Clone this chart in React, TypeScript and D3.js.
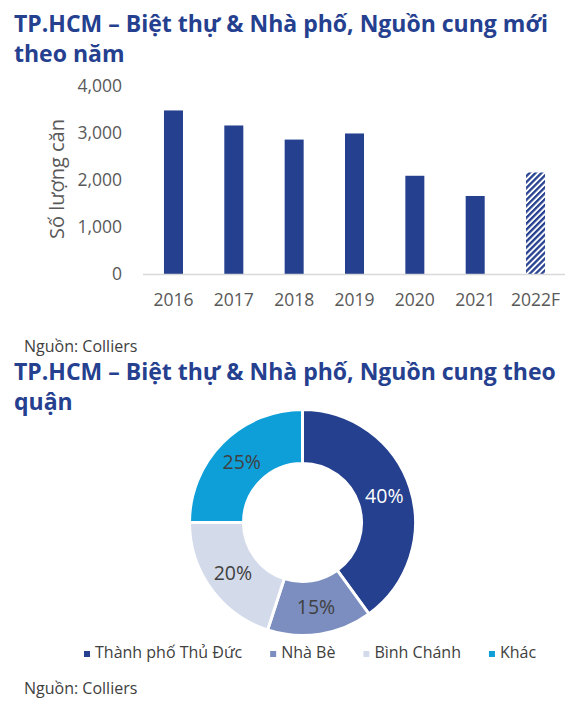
import React, { useEffect, useRef } from "react";
import * as d3 from "d3";

const years = ["2016", "2017", "2018", "2019", "2020", "2021", "2022F"];
const supply = [3480, 3160, 2860, 2990, 2090, 1660, 2160];
const forecastYears = ["2022F"];
const yTicks = [0, 1000, 2000, 3000, 4000];

const districts = ["Thành phố Thủ Đức", "Nhà Bè", "Bình Chánh", "Khác"];
const shares = [40, 15, 20, 25];
const districtColors = ["#25408F", "#7B8EBF", "#D3DAEA", "#0E9FD9"];
const labelColors = ["#FFFFFF", "#404040", "#404040", "#404040"];

const title1 = ["TP.HCM – Biệt thự & Nhà phố, Nguồn cung mới", "theo năm"];
const title2 = ["TP.HCM – Biệt thự & Nhà phố, Nguồn cung theo", "quận"];
const source = "Nguồn: Colliers";
const yTitle = "Số lượng căn";

const FONT = "'Open Sans', 'Noto Sans', sans-serif";
const BLUE = "#25408F";

export default function App() {
  const ref = useRef<SVGSVGElement>(null);

  useEffect(() => {
    const svg = d3.select(ref.current);
    svg.selectAll("*").remove();
    svg.style("font-family", FONT);

    const defs = svg.append("defs");
    const pat = defs
      .append("pattern")
      .attr("id", "hatch")
      .attr("patternUnits", "userSpaceOnUse")
      .attr("width", 4.2)
      .attr("height", 4.2)
      .attr("patternTransform", "rotate(45)");
    pat.append("rect").attr("width", 4.2).attr("height", 4.2).attr("fill", "#fff");
    pat.append("rect").attr("width", 2.3).attr("height", 4.2).attr("fill", BLUE);

    // Titles
    const drawTitle = (lines: string[], y0: number) => {
      lines.forEach((t, i) => {
        svg
          .append("text")
          .attr("x", 14)
          .attr("y", y0 + i * 30)
          .attr("fill", BLUE)
          .attr("font-size", 23)
          .attr("font-weight", 700)
          .text(t);
      });
    };
    drawTitle(title1, 32);
    drawTitle(title2, 380);

    // Bar chart
    const x = d3
      .scaleBand<string>()
      .domain(years)
      .range([143.3, 565.7])
      .paddingInner(0.685)
      .paddingOuter(0.3425);
    const y = d3.scaleLinear().domain([0, 4000]).range([274, 86]);

    const g = svg.append("g");
    g.selectAll("text.yt")
      .data(yTicks)
      .join("text")
      .attr("class", "yt")
      .attr("x", 122)
      .attr("y", (d) => y(d))
      .attr("dy", "0.35em")
      .attr("text-anchor", "end")
      .attr("font-size", 17.5)
      .attr("fill", "#595959")
      .text((d) => d3.format(",")(d));

    g.selectAll("rect.bar")
      .data(years)
      .join("rect")
      .attr("class", "bar")
      .attr("x", (d) => x(d)!)
      .attr("width", x.bandwidth())
      .attr("y", (d, i) => y(supply[i]))
      .attr("height", (d, i) => y(0) - y(supply[i]))
      .attr("fill", (d) => (forecastYears.includes(d) ? "url(#hatch)" : BLUE));

    g.append("line")
      .attr("x1", 143)
      .attr("x2", 565)
      .attr("y1", y(0) + 0.5)
      .attr("y2", y(0) + 0.5)
      .attr("stroke", "#D9D9D9")
      .attr("stroke-width", 1.5);

    g.selectAll("text.xt")
      .data(years)
      .join("text")
      .attr("class", "xt")
      .attr("x", (d) => x(d)! + x.bandwidth() / 2)
      .attr("y", 306)
      .attr("text-anchor", "middle")
      .attr("font-size", 17.5)
      .attr("fill", "#595959")
      .text((d) => d);

    g.append("text")
      .attr("transform", `translate(64,179) rotate(-90)`)
      .attr("text-anchor", "middle")
      .attr("font-size", 20)
      .attr("fill", "#595959")
      .text(yTitle);

    // Sources
    [352, 694].forEach((yy) => {
      svg
        .append("text")
        .attr("x", 24)
        .attr("y", yy)
        .attr("font-size", 16)
        .attr("fill", "#404040")
        .text(source);
    });

    // Donut
    const cx = 302.5,
      cy = 522.5;
    const pie = d3.pie<number>().sort(null).value((d) => d)(shares);
    const arc = d3.arc<d3.PieArcDatum<number>>().innerRadius(59).outerRadius(113);
    const labelArc = d3.arc<d3.PieArcDatum<number>>().innerRadius(86).outerRadius(86);
    const pg = svg.append("g").attr("transform", `translate(${cx},${cy})`);
    pg.selectAll("path")
      .data(pie)
      .join("path")
      .attr("d", arc as any)
      .attr("fill", (d, i) => districtColors[i])
      .attr("stroke", "#fff")
      .attr("stroke-width", 3);
    pg.selectAll("text")
      .data(pie)
      .join("text")
      .attr("transform", (d) => `translate(${labelArc.centroid(d)})`)
      .attr("text-anchor", "middle")
      .attr("dy", "0.35em")
      .attr("font-size", 19.5)
      .attr("fill", (d, i) => labelColors[i])
      .text((d) => `${d.data}%`);

    // Legend
    const lg = svg.append("g");
    let lx = 84;
    districts.forEach((name, i) => {
      lg.append("rect")
        .attr("x", lx)
        .attr("y", 651)
        .attr("width", 6)
        .attr("height", 6)
        .attr("fill", districtColors[i]);
      const t = lg
        .append("text")
        .attr("x", lx + 11)
        .attr("y", 658)
        .attr("font-size", 16)
        .attr("fill", "#404040")
        .text(name);
      const w = (t.node() as SVGTextElement).getComputedTextLength();
      lx += 11 + w + 28;
    });
  }, []);

  return (
    <svg
      ref={ref}
      width={565}
      height={711}
      style={{ position: "absolute", left: 0, top: 0, background: "#fff" }}
    />
  );
}
